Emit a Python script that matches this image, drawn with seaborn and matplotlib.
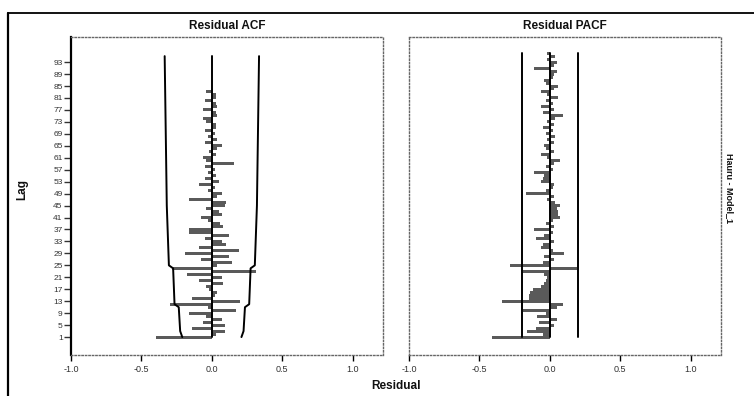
import matplotlib
matplotlib.use("Agg")
import matplotlib.pyplot as plt
import seaborn as sns
import numpy as np
import pandas as pd
from matplotlib.lines import Line2D

# ---------------- data ----------------
acf_vals = [-0.40, 0.03, 0.09, -0.14, 0.09, -0.06, 0.07, -0.04, -0.16, 0.17,
            -0.03, -0.30, 0.20, -0.14, 0.02, 0.04, -0.02, -0.04, 0.08, -0.09,
            0.07, -0.18, 0.31, -0.28, 0.04, 0.14, -0.08, 0.12, -0.19, 0.19,
            -0.09, 0.10, 0.07, -0.05, 0.12, -0.16, -0.16, 0.08, 0.06, -0.03,
            -0.08, 0.07, 0.05, -0.04, 0.09, 0.10, -0.16, 0.04, 0.07, -0.03,
            0.02, -0.09, 0.05, -0.05, 0.03, -0.03, 0.02, -0.05, 0.16, -0.04,
            -0.06, 0.03, -0.02, 0.04, 0.07, -0.05, 0.04, -0.03, 0.02, -0.05,
            0.03, 0.03, -0.04, -0.06, 0.04, 0.03, -0.06, 0.04, 0.03, -0.05,
            0.03, 0.03, -0.04]
acf_lags = list(range(1, len(acf_vals) + 1))

pacf_vals = [-0.41, -0.05, -0.16, -0.10, 0.03, -0.08, 0.05, -0.09, -0.03, -0.19,
             0.05, 0.09, -0.34, -0.15, -0.15, -0.14, -0.12, -0.06, -0.04, -0.03,
             -0.02, -0.04, -0.20, 0.19, -0.28, -0.05, 0.03, -0.04, 0.10, 0.02,
             -0.06, -0.05, 0.03, -0.10, -0.04, 0.02, -0.11, 0.03, -0.03, 0.02,
             0.07, 0.06, 0.06, 0.05, 0.07, 0.04, -0.02, 0.03, -0.17, -0.03,
             0.02, 0.03, -0.06, -0.05, -0.04, -0.11, 0.02, -0.03, 0.03, 0.07,
             -0.02, -0.06, 0.03, -0.03, -0.04, 0.03, -0.02, 0.04, -0.03, 0.02,
             -0.05, 0.03, -0.02, 0.04, 0.09, -0.05, 0.03, -0.06, 0.02, -0.03,
             0.06, -0.02, -0.06, 0.03, 0.06, -0.03, -0.04, 0.02, 0.03, 0.05,
             -0.11, 0.03, 0.05, -0.02, 0.04, -0.02]
pacf_lags = list(range(1, len(pacf_vals) + 1))

# ACF confidence limit (read at break points)
acf_conf_lags = [1, 3, 11, 12, 24, 25, 45, 95]
acf_conf_vals = [0.21, 0.225, 0.235, 0.265, 0.275, 0.305, 0.32, 0.335]
# PACF confidence limit (constant)
pacf_conf_lags = [1, 96]
pacf_conf_vals = [0.20, 0.20]

ytick_vals = list(range(1, 94, 4))
xtick_vals = [-1.0, -0.5, 0.0, 0.5, 1.0]
xtick_labels = ["-1.0", "-0.5", "0.0", "0.5", "1.0"]
titles = ["Residual ACF", "Residual PACF"]
x_label = "Residual"
y_label = "Lag"
side_label = "Hauru - Model_1"

# ---------------- styling ----------------
sns.set_theme(style="white")
plt.rcParams["font.family"] = ["Liberation Sans", "DejaVu Sans"]

W, H = 754, 396
fig = plt.figure(figsize=(W / 100, H / 100), dpi=100)
fig.patch.set_facecolor("white")

def fx(px):
    return px / W

def fy(py):
    return 1 - py / H

ax_top, ax_bot = 37, 355
panels = [(71, 383), (409, 721)]

bar_color = "#5a5a5a"
data_sets = [(acf_vals, acf_lags, acf_conf_lags, acf_conf_vals, 95),
             (pacf_vals, pacf_lags, pacf_conf_lags, pacf_conf_vals, 96)]

for i, ((l, r), (vals, lags, cl, cv, top_lag)) in enumerate(zip(panels, data_sets)):
    ax = fig.add_axes([fx(l), fy(ax_bot), (r - l) / W, (ax_bot - ax_top) / H])
    ax.set_facecolor("white")
    df = pd.DataFrame({"value": vals, "lag": lags})
    sns.barplot(data=df, x="value", y="lag", orient="y", native_scale=True,
                color=bar_color, saturation=1, width=1.0, linewidth=0,
                errorbar=None, ax=ax, zorder=2)
    # zero reference line
    ax.plot([0, 0], [1, top_lag], color="black", lw=1.4, zorder=3)
    # confidence limits
    cv_arr = np.array(cv)
    ax.plot(cv_arr, cl, color="black", lw=1.4, zorder=3)
    ax.plot(-cv_arr, cl, color="black", lw=1.4, zorder=3)

    ax.set_xlim(-1.0, 1.215)
    ax.set_ylim(-5, 101.4)
    ax.set_xticks(xtick_vals)
    ax.set_xticklabels(xtick_labels)
    ax.set_xlabel("")
    ax.set_ylabel("")
    ax.tick_params(axis="x", direction="out", length=4, width=1, color="black",
                   labelsize=6.5, labelcolor="#333333", pad=3, bottom=True)
    if i == 0:
        ax.set_yticks(ytick_vals)
        ax.set_yticklabels([str(v) for v in ytick_vals])
        ax.tick_params(axis="y", direction="out", length=5, width=1, color="#333333",
                       labelsize=6, labelcolor="#333333", pad=1, left=True)
    else:
        ax.set_yticks([])
    for side in ["top", "right", "bottom", "left"]:
        sp = ax.spines[side]
        sp.set_visible(True)
        sp.set_linestyle((0, (1, 1.5)))
        sp.set_color("#666666")
        sp.set_linewidth(1.0)
    if i == 0:
        ax.spines["left"].set_linestyle("-")
        ax.spines["left"].set_color("black")
        ax.spines["left"].set_linewidth(1.6)
    ax.grid(False)
    ax.set_title(titles[i], fontsize=8.5, fontweight="bold", pad=6, color="#111111")

# outer frame
fig.add_artist(Line2D([fx(8), 1.0], [fy(13), fy(13)], color="black", lw=1.3))
fig.add_artist(Line2D([fx(8), fx(8)], [fy(13), 0.0], color="black", lw=1.6))

fig.text(fx(396), fy(386), x_label, ha="center", va="center",
         fontsize=8.5, fontweight="bold", color="#111111")
fig.text(fx(22), fy(190), y_label, ha="center", va="center", rotation=90,
         fontsize=8.5, fontweight="bold", color="#111111")
fig.text(fx(729), fy(188), side_label, ha="center", va="center", rotation=270,
         fontsize=6.5, fontweight="bold", color="#111111")

fig.savefig("out.png", dpi=100, facecolor="white")
